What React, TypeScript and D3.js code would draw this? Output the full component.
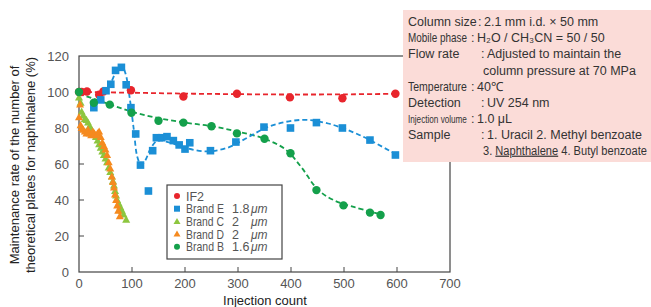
import React, { useEffect, useRef } from "react"
import * as d3 from "d3"

// measured points [injection count, maintenance rate %]
const if2 = [[0, 100], [5, 100], [15, 100.3], [38, 98.5], [46, 100.3], [98, 101], [197, 97.5], [298, 99], [398, 97], [497, 96.5], [597, 99]]
const brandE = [[28, 91.3], [41, 95.6], [51, 100.7], [60, 104.3], [69, 112], [80, 113.7], [89, 104], [98, 91.3], [107, 76.7], [116, 59.4], [131, 45], [139, 67.4], [146, 74.6], [156, 74.6], [166, 75.2], [178, 73], [189, 70.6], [200, 68.3], [209, 71.8], [248, 67.4], [296, 72.2], [349, 80.5], [399, 80], [448, 83], [497, 80], [549, 73.3], [597, 65]]
const brandC = [[0, 97], [3, 94], [5, 89], [8, 87], [11, 85], [14, 84.5], [17, 83], [20, 81], [24, 79], [28, 77], [32, 75], [35, 73], [38, 71], [41, 69], [44, 67], [47, 65], [50, 63], [53, 61], [56, 58], [59, 55.5], [62, 53], [64, 50.5], [66, 48], [68, 45], [70, 42.5], [72, 40], [75, 38], [78, 36], [81, 34], [84, 32], [89, 29]]
const brandD = [[0, 86], [2, 93], [3, 81.5], [5, 80], [8, 79], [11, 78], [14, 77], [17, 79], [20, 77], [23, 76], [26, 78], [29, 77], [32, 76], [35, 77], [38, 78], [41, 75], [44, 72], [47, 70], [50, 68], [53, 65], [56, 61], [59, 57.5], [62, 53], [64, 50], [66, 47], [68, 43], [70, 40], [72, 37], [74, 34], [77, 31]]
const brandB = [[0, 100], [28, 94], [58, 93], [99, 88.5], [150, 84], [197, 83], [250, 81], [298, 77], [350, 74], [399, 66], [448, 45.5], [499, 37], [549, 33], [569, 31.7]]

// dashed trend curves
const if2Trend = [[0, 100], [100, 99.6], [200, 99.1], [300, 98.8], [400, 98.6], [500, 98.7], [600, 99]]
const brandETrend = [[28, 92], [45, 97], [60, 105], [72, 112.5], [80, 115], [88, 110], [95, 98], [103, 80], [110, 64], [117, 59.5], [125, 62], [135, 68.5], [148, 73], [170, 72], [200, 69], [240, 67], [280, 69], [320, 75], [360, 81], [420, 84.5], [470, 82.5], [530, 76], [600, 65]]
const brandBTrend = [[0, 99], [50, 94], [100, 89], [150, 85.5], [200, 83], [250, 81], [300, 78], [350, 74], [390, 68], [420, 58], [450, 46], [480, 40], [520, 36], [570, 32]]

const xTicks = [0, 100, 200, 300, 400, 500, 600, 700]
const yTicks = [0, 20, 40, 60, 80, 100, 120]

const legendItems = [
  { name: "IF2", size: "", unit: "", color: "#e8252c", shape: "circle" },
  { name: "Brand E", size: "1.8", unit: "μm", color: "#1b8fd6", shape: "square" },
  { name: "Brand C", size: "2", unit: "μm", color: "#8dc63f", shape: "triangle" },
  { name: "Brand D", size: "2", unit: "μm", color: "#f58a1f", shape: "triangle" },
  { name: "Brand B", size: "1.6", unit: "μm", color: "#14a04b", shape: "circle" },
]

// label, value, squeezed label width (0 = natural), colon x, label font size
const conditions = [
  ["Column size", "2.1 mm i.d. × 50 mm", 0, 478, 12.5],
  ["Mobile phase", "H₂O / CH₃CN = 50 / 50", 59, 471, 12.5],
  ["Flow rate", "Adjusted to maintain the", 0, 481, 12.5],
  ["", "column pressure at 70 MPa", 0, 477, 12.5],
  ["Temperature", "40℃", 59, 471, 12.5],
  ["Detection", "UV 254 nm", 0, 481, 12.5],
  ["Injection volume", "1.0 μL", 59, 471, 10.5],
  ["Sample", "1. Uracil 2. Methyl benzoate", 0, 481, 12.5],
]

// squeeze a text horizontally to a given width, anchored at its left edge
const squeezeTo = (sel, x, y, w) => {
  const len = sel.node().getComputedTextLength()
  sel.attr("x", 0).attr("y", 0)
    .attr("transform", `translate(${x},${y}) scale(${Math.min(1, w / len)},1)`)
}

const App = () => {
  const ref = useRef(null)

  useEffect(() => {
    document.body.style.margin = "0"
    const width = 651
    const height = 307
    const font = "'Liberation Sans', Arial, sans-serif"

    d3.select(ref.current).selectAll("*").remove()
    const svg = d3.select(ref.current)
      .append("svg")
      .attr("width", width)
      .attr("height", height)
      .style("display", "block")
      .style("font-family", font)

    const x = d3.scaleLinear().domain([0, 700]).range([79, 450])
    const y = d3.scaleLinear().domain([0, 120]).range([272, 56])
    const axisColor = "#444"

    // frame
    svg.append("rect")
      .attr("x", x(0)).attr("y", y(120))
      .attr("width", x(700) - x(0)).attr("height", y(0) - y(120))
      .attr("fill", "none").attr("stroke", axisColor).attr("stroke-width", 1.2)

    // ticks inside
    svg.selectAll(".xt").data(xTicks.slice(1, -1)).join("line")
      .attr("x1", d => x(d)).attr("x2", d => x(d))
      .attr("y1", y(0)).attr("y2", y(0) - 5)
      .attr("stroke", axisColor)
    svg.selectAll(".yt").data(yTicks.slice(1, -1)).join("line")
      .attr("y1", d => y(d)).attr("y2", d => y(d))
      .attr("x1", x(0)).attr("x2", x(0) + 5)
      .attr("stroke", axisColor)

    svg.append("g").selectAll("text").data(xTicks).join("text")
      .attr("x", d => x(d)).attr("y", 288)
      .attr("text-anchor", "middle")
      .attr("font-size", 13).attr("fill", "#555")
      .text(d => d)
    svg.append("g").selectAll("text").data(yTicks).join("text")
      .attr("x", 69).attr("y", d => y(d) + 5)
      .attr("text-anchor", "end")
      .attr("font-size", 13).attr("fill", "#555")
      .text(d => d)

    svg.append("text")
      .attr("x", 265).attr("y", 305)
      .attr("text-anchor", "middle")
      .attr("font-size", 13).attr("fill", "#222")
      .text("Injection count")

    const yLabel = svg.append("g").attr("transform", "translate(0,165) rotate(-90)")
    yLabel.append("text").attr("x", 0).attr("y", 19)
      .attr("text-anchor", "middle").attr("font-size", 13).attr("fill", "#222")
      .text("Maintenance rate of the number of")
    yLabel.append("text").attr("x", 0).attr("y", 35)
      .attr("text-anchor", "middle").attr("font-size", 13).attr("fill", "#222")
      .text("theoretical plates for naphthalene (%)")

    // trend lines
    const line = d3.line()
      .x(d => x(d[0]))
      .y(d => y(d[1]))
      .curve(d3.curveCatmullRom)

    const trends = [
      [if2Trend, "#e8252c"],
      [brandBTrend, "#14a04b"],
      [brandETrend, "#1b8fd6"],
    ]
    trends.forEach(([data, color]) => {
      svg.append("path")
        .datum(data)
        .attr("d", line)
        .attr("fill", "none")
        .attr("stroke", color)
        .attr("stroke-width", 1.8)
        .attr("stroke-dasharray", "5,3")
    })

    // markers
    const marker = (g, shape, color, cx, cy) => {
      if (shape === "circle") {
        g.append("circle").attr("cx", cx).attr("cy", cy).attr("r", 4.2).attr("fill", color)
      } else if (shape === "square") {
        g.append("rect").attr("x", cx - 3.8).attr("y", cy - 3.8).attr("width", 7.6).attr("height", 7.6).attr("fill", color)
      } else {
        g.append("path")
          .attr("d", `M${cx},${cy - 4.2}L${cx + 4},${cy + 3}L${cx - 4},${cy + 3}Z`)
          .attr("fill", color)
      }
    }

    const series = [
      [if2, "circle", "#e8252c"],
      [brandE, "square", "#1b8fd6"],
      [brandC, "triangle", "#8dc63f"],
      [brandD, "triangle", "#f58a1f"],
      [brandB, "circle", "#14a04b"],
    ]
    series.forEach(([data, shape, color]) => {
      const g = svg.append("g")
      data.forEach(d => marker(g, shape, color, x(d[0]), y(d[1])))
    })

    // legend
    const legend = svg.append("g")
    legend.append("rect")
      .attr("x", 167).attr("y", 185).attr("width", 115).attr("height", 74)
      .attr("fill", "#fff").attr("stroke", axisColor).attr("stroke-width", 1.2)
    legendItems.forEach((item, i) => {
      const cy = 196 + i * 12.7
      const g = legend.append("g")
      if (item.shape === "circle") {
        g.append("circle").attr("cx", 177).attr("cy", cy).attr("r", 3).attr("fill", item.color)
      } else if (item.shape === "square") {
        g.append("rect").attr("x", 174).attr("y", cy - 3).attr("width", 6).attr("height", 6).attr("fill", item.color)
      } else {
        g.append("path").attr("d", `M177,${cy - 3.5}L180.5,${cy + 2.5}L173.5,${cy + 2.5}Z`).attr("fill", item.color)
      }
      const name = g.append("text").attr("x", 186).attr("y", cy + 4.5)
        .attr("font-size", 12.5).attr("fill", "#555").text(item.name)
      if (item.size) {
        squeezeTo(name, 186, cy + 4.5, 38)
        g.append("text").attr("x", 232).attr("y", cy + 4.5)
          .attr("font-size", 12.5).attr("fill", "#555").text(item.size)
        g.append("text").attr("x", 251).attr("y", cy + 4.5)
          .attr("font-size", 12).attr("font-style", "italic").attr("fill", "#555").text(item.unit)
      }
    })

    // conditions box
    const box = svg.append("g")
    box.append("rect")
      .attr("x", 403).attr("y", 10).attr("width", 248).attr("height", 152)
      .attr("fill", "#fbdcd8")
    const rowY = i => 26 + i * 16.2
    conditions.forEach(([label, value, squeeze, colonX, size], i) => {
      if (label) {
        const t = box.append("text").attr("x", 408).attr("y", rowY(i))
          .attr("font-size", size).attr("fill", "#333").text(label)
        if (squeeze) squeezeTo(t, 408, rowY(i), squeeze)
        box.append("text").attr("x", colonX).attr("y", rowY(i))
          .attr("font-size", 12.5).attr("fill", "#333").text(":")
      }
      box.append("text").attr("x", colonX + 6).attr("y", rowY(i))
        .attr("font-size", 12.5).attr("fill", "#333").text(value)
    })
    const sample2 = box.append("text")
      .attr("font-size", 12).attr("fill", "#333")
    sample2.append("tspan").text("3. ")
    sample2.append("tspan").attr("text-decoration", "underline").text("Naphthalene")
    sample2.append("tspan").text(" 4. Butyl benzoate")
    squeezeTo(sample2, 483, rowY(conditions.length) - 1, 164)
  }, [])

  return <div ref={ref}></div>
}

export default App
